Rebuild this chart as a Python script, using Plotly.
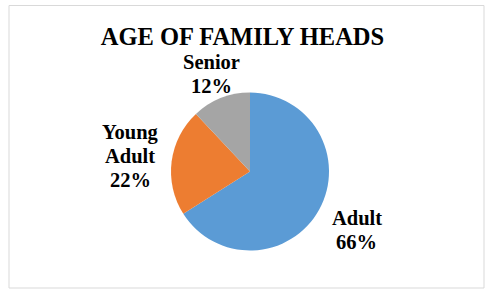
import math
import plotly.graph_objects as go

labels = ["Adult", "Young Adult", "Senior"]
display_labels = ["Adult", "Young<br>Adult", "Senior"]
values = [66, 22, 12]
colors = ["#5B9BD5", "#ED7D31", "#A5A5A5"]
title = "AGE OF FAMILY HEADS"

# label placement (distance from centre, in pie radii)
label_dist = [1.54, 1.53, 1.33]

W, H = 485, 289
cx, cy, r = 250, 171.5, 79
LINE_PITCH = 24
FONT = "Liberation Serif, Times New Roman, serif"

fig = go.Figure(go.Pie(
    labels=labels,
    values=values,
    textinfo="none",
    sort=False,
    direction="clockwise",
    rotation=0,
    marker=dict(colors=colors, line=dict(width=0)),
    showlegend=False,
    hoverinfo="label+percent",
    domain=dict(x=[(cx - r) / W, (cx + r) / W], y=[(H - cy - r) / H, (H - cy + r) / H]),
))

total = sum(values)
annotations = []
cum = 0
for lab, v, d in zip(display_labels, values, label_dist):
    mid = (cum + v / 2) / total * 2 * math.pi
    cum += v
    px = cx + d * r * math.sin(mid)
    py = cy - d * r * math.cos(mid)
    pct = round(v / total * 100)
    lines = lab.split("<br>") + [f"{pct}%"]
    n = len(lines)
    for i, line in enumerate(lines):
        annotations.append(dict(
            x=px / W, y=1 - py / H, xref="paper", yref="paper",
            yshift=((n - 1) / 2 - i) * LINE_PITCH,
            text=f"<b>{line}</b>", showarrow=False,
            xanchor="center", yanchor="middle", align="center",
            font=dict(family=FONT, size=20.5, color="black"),
        ))

fig.update_layout(
    width=W, height=H,
    margin=dict(l=0, r=0, t=0, b=0),
    paper_bgcolor="white",
    plot_bgcolor="white",
    title=dict(text=f"<b>{title}</b>", x=0.5, xanchor="center", y=1 - 36.5 / H, yanchor="middle",
               xref="paper", yref="container",
               font=dict(family=FONT, size=24.5, color="black")),
    annotations=annotations,
    shapes=[dict(type="rect", xref="paper", yref="paper",
                 x0=9 / W, x1=484 / W, y0=1 - 288 / H, y1=1 - 5.5 / H,
                 line=dict(color="#D9D9D9", width=1), fillcolor="rgba(0,0,0,0)")],
)

fig.write_html("out.html", config={"displayModeBar": False},
               post_script="document.body.style.margin='0';document.body.style.overflow='hidden';")
